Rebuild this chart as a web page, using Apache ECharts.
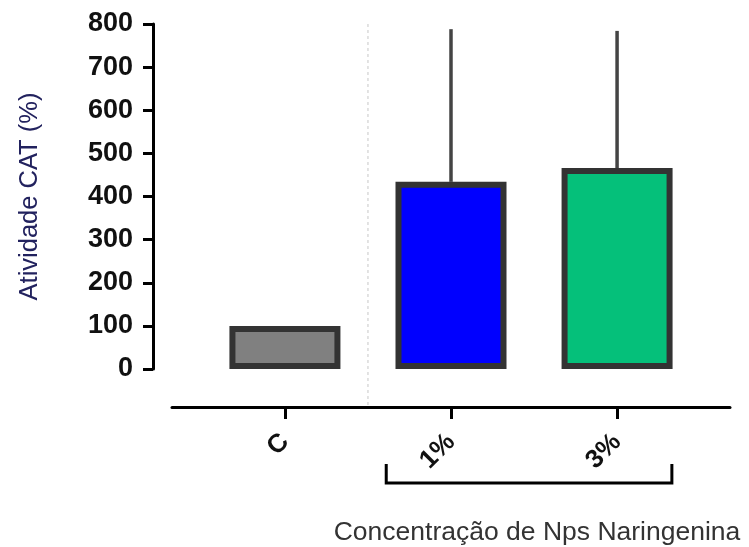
<!DOCTYPE html>
<html>
<head>
<meta charset="utf-8">
<script src="https://cdn.jsdelivr.net/npm/echarts@6/dist/echarts.min.js"></script>
<style>
  html, body { margin: 0; padding: 0; background: #fff; }
  #main { width: 749px; height: 547px; }
</style>
</head>
<body>
<div id="main"></div>
<script>
// dados
var categories = ['C', '1%', '3%'];
var positions = [1, 2, 3];
var means = [100, 434, 466];
var sem = [0, 354, 318];
var barColors = ['#808080', '#0000ff', '#05c07a'];
var yTicks = [0, 100, 200, 300, 400, 500, 600, 700, 800];

// estilo
var FONT = 'Liberation Sans, Arial, sans-serif';
var BAR_W = 111;
var BORDER = 6;
var X_OFFSET = 38;        // eixo x deslocado para baixo do zero

var barData = positions.map(function (p, i) { return [p, means[i], sem[i]]; });

var myChart = echarts.init(document.getElementById('main'));

var option = {
    animation: false,
    grid: { left: 172, right: 19, top: 24, bottom: 178, outerBoundsMode: 'none' },
    xAxis: {
        type: 'value',
        min: 0.32,
        max: 3.68,
        offset: X_OFFSET,
        splitLine: { show: false },
        axisLine: { onZero: false, lineStyle: { color: '#000', width: 3 } },
        axisTick: { customValues: positions, length: 12, lineStyle: { color: '#000', width: 3 } },
        axisLabel: {
            customValues: positions,
            formatter: function (v) { return categories[Math.round(v) - 1]; },
            rotate: 45,
            margin: 31,
            color: '#111',
            fontFamily: FONT,
            fontWeight: 'bold',
            fontSize: 26
        },
        name: 'Concentração de Nps Naringenina',
        nameLocation: 'middle',
        nameGap: 112,
        nameTextStyle: { color: '#333', fontFamily: FONT, fontSize: 26.5, padding: [0, 0, 0, 172] }
    },
    yAxis: {
        type: 'value',
        min: yTicks[0],
        max: yTicks[yTicks.length - 1],
        interval: 100,
        offset: 19,
        splitLine: { show: false },
        axisLine: { show: true, onZero: false, lineStyle: { color: '#000', width: 3 } },
        axisTick: { show: true, length: 10, lineStyle: { color: '#000', width: 3 } },
        axisLabel: { margin: 20, color: '#111', fontFamily: FONT, fontWeight: 'bold', fontSize: 27 },
        name: 'Atividade CAT (%)',
        nameLocation: 'middle',
        nameGap: 110,
        nameTextStyle: { color: '#22225e', fontFamily: FONT, fontSize: 25.5 }
    },
    series: [
        {
            // linha tracejada separando controle dos tratamentos + chave
            type: 'custom',
            clip: false,
            silent: true,
            data: [[1.5, 800]],
            renderItem: function (params, api) {
                var top = api.coord([api.value(0), api.value(1)]);
                var zero = api.coord([api.value(0), 0]);
                var gL = api.coord([2 - 0.39, 0])[0];
                var gR = api.coord([3 + 0.33, 0])[0];
                var yb = zero[1] + 114;
                var yt = zero[1] + 95;
                return {
                    type: 'group',
                    children: [
                        { type: 'line', shape: { x1: top[0], y1: top[1], x2: top[0], y2: zero[1] + X_OFFSET },
                          style: { stroke: '#c8c8c8', lineWidth: 1, lineDash: [3, 3] } },
                        { type: 'polyline', shape: { points: [[gL, yt], [gL, yb], [gR, yb], [gR, yt]] },
                          style: { stroke: '#000', lineWidth: 3, fill: null } }
                    ]
                };
            }
        },
        {
            type: 'custom',
            clip: false,
            data: barData,
            encode: { x: 0, y: 1 },
            renderItem: function (params, api) {
                var x = api.value(0), y = api.value(1), e = api.value(2);
                var top = api.coord([x, y]);
                var base = api.coord([x, 0]);
                var tip = api.coord([x, y + e]);
                var h = BORDER / 2;
                var children = [];
                if (e > 0) {
                    children.push({ type: 'line', shape: { x1: top[0], y1: top[1], x2: tip[0], y2: tip[1] },
                        style: { stroke: '#444', lineWidth: 3.5 } });
                }
                children.push({
                    type: 'rect',
                    shape: { x: top[0] - BAR_W / 2 + h, y: top[1] + h, width: BAR_W - BORDER, height: base[1] - top[1] - BORDER },
                    style: { fill: barColors[params.dataIndex], stroke: '#333', lineWidth: BORDER }
                });
                return { type: 'group', children: children };
            }
        }
    ]
};
myChart.setOption(option);
</script>
</body>
</html>
